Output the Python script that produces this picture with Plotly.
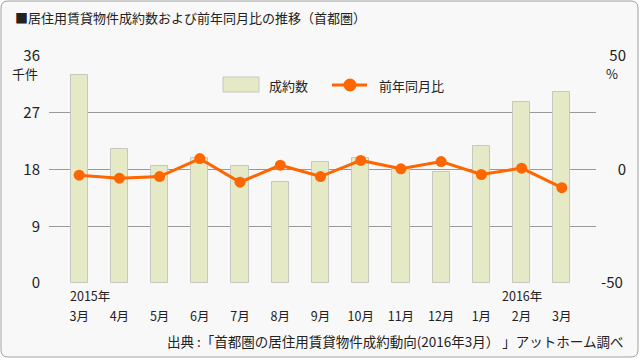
import plotly.graph_objects as go

months = ["3月", "4月", "5月", "6月", "7月", "8月", "9月", "10月", "11月", "12月", "1月", "2月", "3月"]
contracts = [33.0, 21.3, 18.5, 19.8, 18.5, 16.0, 19.2, 19.8, 18.1, 17.6, 21.7, 28.7, 30.3]
yoy = [-2.5, -3.8, -3.1, 4.8, -5.6, 1.9, -3.1, 4.0, 0.3, 3.5, -2.2, 0.6, -8.0]
left_ticks = [0, 9, 18, 27, 36]
right_ticks = [-50, 0, 50]
right_ticktext = ["-50", "\u2007\u20070", "\u200750"]

W, H = 640, 360
L, R, T, B = 49, 44, 56, 77
PW, PH = W - L - R, H - T - B

def px(x):
    return (x - L) / PW

def py(y):
    return (H - B - y) / PH

FONT = "Noto Sans CJK JP, Noto Sans, sans-serif"
TXT = "#222222"
x = list(range(len(months)))

fig = go.Figure()
fig.add_trace(go.Bar(
    x=x, y=contracts, width=0.43, name="成約数",
    marker=dict(color="#e5e9c6", line=dict(color="#c6c8c0", width=1)),
    showlegend=False,
))
fig.add_trace(go.Scatter(
    x=x, y=yoy, yaxis="y2", name="前年同月比", mode="lines+markers",
    line=dict(color="#ff6600", width=3),
    marker=dict(color="#ff6600", size=11),
    showlegend=False,
))

# rounded border
r = 7
x0, y0, x1, y1 = px(1), py(1), px(638), py(357)
rx, ry = r / PW, r / PH
path = (f"M{x0+rx},{y0} L{x1-rx},{y0} Q{x1},{y0} {x1},{y0-ry} "
        f"L{x1},{y1+ry} Q{x1},{y1} {x1-rx},{y1} L{x0+rx},{y1} Q{x0},{y1} {x0},{y1+ry} "
        f"L{x0},{y0-ry} Q{x0},{y0} {x0+rx},{y0} Z")
shapes = [dict(type="path", xref="paper", yref="paper", path=path,
               fillcolor="#f8f8f8", line=dict(color="#a0a0a0", width=1), layer="below")]

# custom legend
shapes.append(dict(type="rect", xref="paper", yref="paper",
                   x0=px(223), x1=px(259), y0=py(92), y1=py(77),
                   fillcolor="#e5e9c6", line=dict(color="#c6c8c0", width=1)))
shapes.append(dict(type="line", xref="paper", yref="paper",
                   x0=px(332), x1=px(367), y0=py(85), y1=py(85),
                   line=dict(color="#ff6600", width=3)))
shapes.append(dict(type="circle", xref="paper", yref="paper",
                   x0=px(343.5), x1=px(356.5), y0=py(91.5), y1=py(78.5),
                   fillcolor="#ff6600", line=dict(color="#ff6600", width=0)))

ann = []
def text(t, x_, y_, anchor="left", size=13):
    ann.append(dict(text=t, xref="paper", yref="paper", x=px(x_), y=py(y_),
                    xanchor=anchor, yanchor="middle", showarrow=False,
                    font=dict(family=FONT, size=size, color=TXT)))

text("■居住用賃貸物件成約数および前年同月比の推移（首都圏）", 13, 17, size=13)
text("千件", 40, 74, anchor="right", size=13)
text("%", 620, 74, anchor="right", size=13)
text("成約数", 267, 85, size=13)
text("前年同月比", 377, 85, size=13)
text("出典 :「首都圏の居住用賃貸物件成約動向(2016年3月） 」アットホーム調べ", 625, 341,
     anchor="right", size=13.5)
ann.append(dict(text="2015年", x=0, xref="x", y=py(295), yref="paper", xanchor="left",
                yanchor="middle", xshift=-11, showarrow=False,
                font=dict(family=FONT, size=12.5, color=TXT)))
ann.append(dict(text="2016年", x=11, xref="x", y=py(295), yref="paper", xanchor="center",
                yanchor="middle", showarrow=False, font=dict(family=FONT, size=12.5, color=TXT)))

fig.update_layout(
    width=W, height=H,
    margin=dict(l=L, r=R, t=T, b=B),
    paper_bgcolor="white", plot_bgcolor="rgba(0,0,0,0)",
    font=dict(family=FONT, size=14, color=TXT),
    bargap=0,
    xaxis=dict(range=[-0.75, 12.85], tickvals=x, ticktext=months, showgrid=False,
               zeroline=False, showline=False, ticks="", tickfont=dict(size=12.5),
               ticklabelstandoff=24, fixedrange=True),
    yaxis=dict(range=[0, 36], tickvals=left_ticks, gridcolor="#999999", gridwidth=1,
               zeroline=False, showline=False, ticks="", tickfont=dict(size=15),
               ticklabelstandoff=8),
    yaxis2=dict(range=[-50, 50], overlaying="y", side="right", tickvals=right_ticks,
                ticktext=right_ticktext, showgrid=False, zeroline=False, showline=False,
                ticks="", tickfont=dict(size=15), ticklabelstandoff=4),
    shapes=shapes,
    annotations=ann,
)
fig.write_html("out.html", config={"displayModeBar": False},
               post_script="document.body.style.margin='0';document.body.style.overflow='hidden';")
